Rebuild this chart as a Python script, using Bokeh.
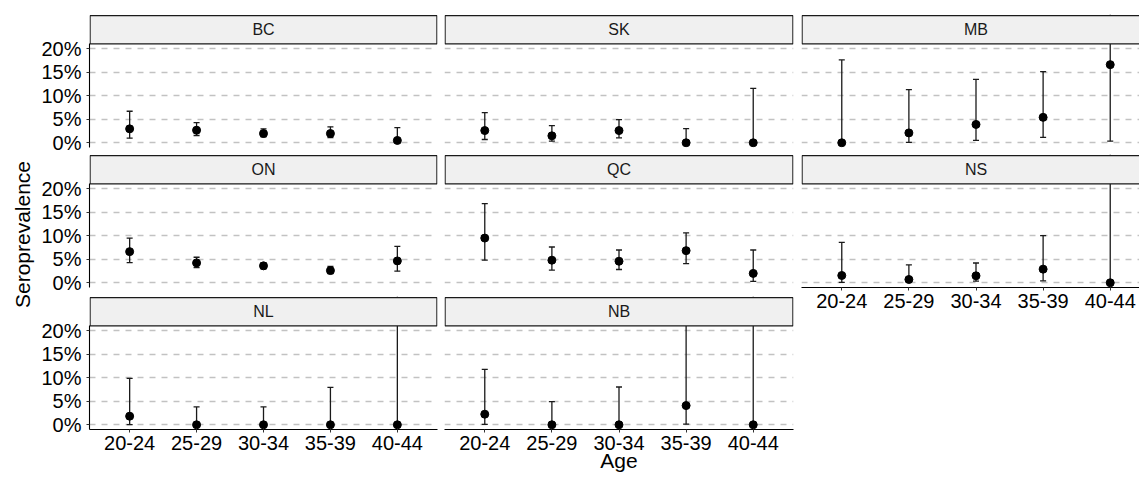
import math
from bokeh.plotting import figure
from bokeh.layouts import row, column
from bokeh.models import FixedTicker, Grid, ColumnDataSource, Label, Range1d
from bokeh.core.properties import value
from bokeh.embed import file_html
from bokeh.resources import INLINE

# ---------------- data ----------------
AGES = ["20-24", "25-29", "30-34", "35-39", "40-44"]
PROVINCES = ["BC", "SK", "MB", "ON", "QC", "NS", "NL", "NB"]
Y_TICKS = [0.0, 0.05, 0.10, 0.15, 0.20]
Y_TICK_LABELS = ["0%", "5%", "10%", "15%", "20%"]
X_TITLE = "Age"
Y_TITLE = "Seroprevalence"

BC_EST = [0.0296, 0.0268, 0.0197, 0.0197, 0.0050]
BC_LOW = [0.0099, 0.0155, 0.0127, 0.0110, 0.0010]
BC_HIGH = [0.0670, 0.0430, 0.0296, 0.0340, 0.0324]

SK_EST = [0.0260, 0.0148, 0.0260, 0.0, 0.0]
SK_LOW = [0.0070, 0.0035, 0.0106, 0.0, 0.0]
SK_HIGH = [0.0640, 0.0366, 0.0493, 0.0303, 0.1155]

MB_EST = [0.0, 0.0210, 0.0390, 0.0540, 0.1660]
MB_LOW = [0.0, 0.0007, 0.0050, 0.0113, 0.0035]
MB_HIGH = [0.1760, 0.1130, 0.1345, 0.1510, 0.4400]

ON_EST = [0.0662, 0.0423, 0.0360, 0.0260, 0.0465]
ON_LOW = [0.0430, 0.0324, 0.0296, 0.0197, 0.0246]
ON_HIGH = [0.0950, 0.0542, 0.0420, 0.0350, 0.0775]

QC_EST = [0.0950, 0.0480, 0.0458, 0.0683, 0.0200]
QC_LOW = [0.0480, 0.0270, 0.0282, 0.0408, 0.0028]
QC_HIGH = [0.1680, 0.0760, 0.0697, 0.1060, 0.0697]

NS_EST = [0.0155, 0.0070, 0.0148, 0.0290, 0.0]
NS_LOW = [0.0007, 0.0014, 0.0035, 0.0042, 0.0]
NS_HIGH = [0.0860, 0.0380, 0.0420, 0.1000, 0.3000]

NL_EST = [0.0183, 0.0, 0.0, 0.0, 0.0]
NL_LOW = [0.0005, 0.0, 0.0, 0.0, 0.0]
NL_HIGH = [0.0986, 0.0380, 0.0380, 0.0796, 0.4900]

NB_EST = [0.0225, 0.0, 0.0, 0.0408, 0.0]
NB_LOW = [0.0007, 0.0, 0.0, 0.0014, 0.0]
NB_HIGH = [0.1176, 0.0493, 0.0803, 0.2600, 0.5000]

SERIES = {
    "BC": (BC_EST, BC_LOW, BC_HIGH),
    "SK": (SK_EST, SK_LOW, SK_HIGH),
    "MB": (MB_EST, MB_LOW, MB_HIGH),
    "ON": (ON_EST, ON_LOW, ON_HIGH),
    "QC": (QC_EST, QC_LOW, QC_HIGH),
    "NS": (NS_EST, NS_LOW, NS_HIGH),
    "NL": (NL_EST, NL_LOW, NL_HIGH),
    "NB": (NB_EST, NB_LOW, NB_HIGH),
}

# ---------------- style / layout ----------------
FONT = "Liberation Sans"
X_POS = [i + 1 for i in range(len(AGES))]
X_MID = sum(X_POS) / len(X_POS)
X_OVERRIDES = {x: a for x, a in zip(X_POS, AGES)}
Y_OVERRIDES = {t: l for t, l in zip(Y_TICKS, Y_TICK_LABELS)}
X_LO, X_HI = 0.4, len(AGES) + 0.6
Y_LO, Y_PANEL_HI, Y_STRIP_HI, Y_HI = -0.01, 0.21, 0.27, 0.2725
FRAME_W = 349
FRAME_H = 133
PX_PER_UNIT = FRAME_W / (X_HI - X_LO)
CAP = 0.045
TITLE_W = 38

# column geometry: (left border, frame width, right border)
COLS = [(50, FRAME_W, 3), (4, FRAME_W, 4), (4, 338, 0)]
# row geometry: (top border, bottom border)
ROWS = [(14, 7), (0, 9), (0, 48)]
NCOL = 3


def style_axis(ax, standoff):
    ax.axis_line_color = "black"
    ax.axis_line_width = 1.1
    ax.major_tick_line_color = "#333333"
    ax.major_tick_out = 3
    ax.major_tick_in = 0
    ax.minor_tick_line_color = None
    ax.major_label_standoff = standoff
    ax.major_label_text_font = FONT
    ax.major_label_text_font_size = "20px"
    ax.major_label_text_color = "black"


def make_panel(prov, idx, show_x):
    c, r = idx % NCOL, idx // NCOL
    lb, fw, rb = COLS[c]
    tb, bb = ROWS[r]
    if show_x and r < 2:
        bb = 40
    x_hi = X_LO + fw / PX_PER_UNIT
    p = figure(
        width=lb + fw + rb, height=tb + FRAME_H + bb,
        x_range=Range1d(X_LO, x_hi), y_range=Range1d(Y_LO, Y_HI),
        x_axis_location="below" if show_x else None,
        y_axis_location="left" if c == 0 else None,
        output_backend="svg", toolbar_location=None, title=None,
        min_border_left=lb, min_border_right=rb,
        min_border_top=tb, min_border_bottom=bb,
    )
    p.outline_line_color = None
    p.background_fill_color = "white"
    p.border_fill_color = "white"
    for g in p.xgrid:
        g.visible = False
    for g in p.ygrid:
        g.visible = False
    p.add_layout(Grid(dimension=1, ticker=FixedTicker(ticks=Y_TICKS),
                      grid_line_color="#C2C2C2", grid_line_width=1.3,
                      grid_line_dash="6 6"))

    if c == 0:
        ax = p.yaxis[0]
        ax.ticker = FixedTicker(ticks=Y_TICKS)
        ax.major_label_overrides = Y_OVERRIDES
        ax.bounds = (Y_LO, Y_PANEL_HI)
        style_axis(ax, 5)
    if show_x:
        ax = p.xaxis[0]
        ax.ticker = FixedTicker(ticks=X_POS)
        ax.major_label_overrides = X_OVERRIDES
        style_axis(ax, 3)

    est, low, high = SERIES[prov]
    src = ColumnDataSource(dict(
        x=X_POS, xl=[x - CAP for x in X_POS], xr=[x + CAP for x in X_POS],
        est=est, lo=low, hi=high,
    ))
    p.segment(x0="x", y0="lo", x1="x", y1="hi", source=src,
              line_color="#1a1a1a", line_width=1.3)
    p.segment(x0="xl", y0="hi", x1="xr", y1="hi", source=src,
              line_color="#1a1a1a", line_width=1.3)
    p.segment(x0="xl", y0="lo", x1="xr", y1="lo", source=src,
              line_color="#1a1a1a", line_width=1.3)
    p.scatter(x="x", y="est", source=src, size=8,
              fill_color="black", line_color="black")

    # white cover above the strip (hides clipped whiskers), then the facet strip
    p.quad(left=[X_LO], right=[X_HI], bottom=[Y_STRIP_HI], top=[Y_HI + 0.05],
           fill_color="white", line_color=None)
    inset = 0.6 / PX_PER_UNIT
    p.quad(left=[X_LO + inset], right=[X_HI - inset],
           bottom=[Y_PANEL_HI], top=[Y_STRIP_HI],
           fill_color="#F0F0F0", line_color="#1a1a1a", line_width=1.2)
    p.add_layout(Label(x=X_MID, y=(Y_PANEL_HI + Y_STRIP_HI) / 2,
                       text=prov, text_align="center", text_baseline="middle",
                       text_font=FONT, text_font_size="16px",
                       text_color="#1a1a1a"))
    return p


panels = {}
bottom_of_col = {}
for i, prov in enumerate(PROVINCES):
    bottom_of_col[i % NCOL] = prov
for i, prov in enumerate(PROVINCES):
    show_x = bottom_of_col[i % NCOL] == prov
    panels[prov] = make_panel(prov, i, show_x)

# x axis title on the middle bottom panel (centred across the facet grid)
ax = panels["NB"].xaxis[0]
ax.axis_label = X_TITLE
ax.axis_label_standoff = -4
ax.axis_label_text_font = FONT
ax.axis_label_text_font_size = "21px"
ax.axis_label_text_font_style = "normal"
ax.axis_label_text_color = "black"

cols = []
for c in range(NCOL):
    cols.append(column(*[panels[p] for i, p in enumerate(PROVINCES) if i % NCOL == c]))

# y axis title in its own narrow strip on the left
col_h = sum(tb + FRAME_H + bb for tb, bb in ROWS)
ytitle = figure(width=TITLE_W, height=col_h, x_range=Range1d(0, TITLE_W),
                y_range=Range1d(0, col_h), x_axis_location=None,
                y_axis_location=None, output_backend="svg",
                toolbar_location=None, title=None, min_border=0)
ytitle.outline_line_color = None
ytitle.grid.visible = False
ytitle.text(x=[21.5], y=[col_h - 234], text=[Y_TITLE], angle=math.pi / 2,
            text_align="center", text_baseline="middle",
            text_font=value(FONT), text_font_size=value("21px"),
            text_color="black")

layout = row(ytitle, *cols)

open("out.html", "w").write(file_html(layout, INLINE))
